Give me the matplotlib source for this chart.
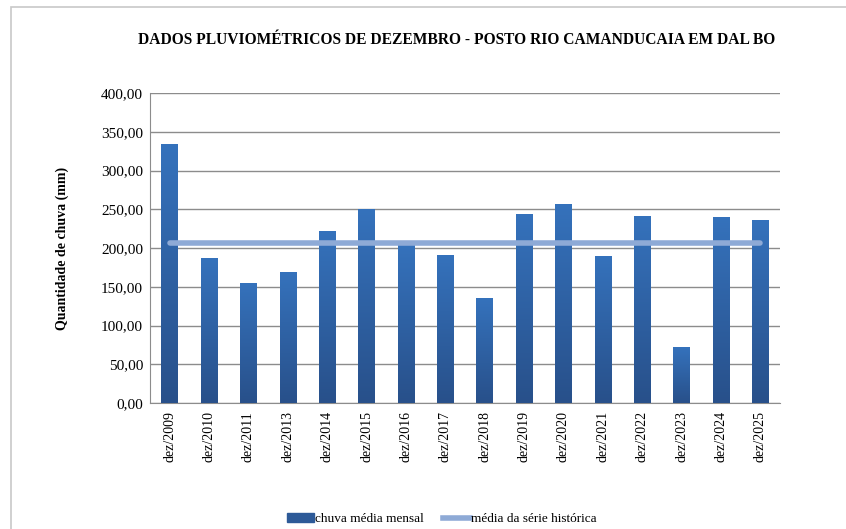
import numpy as np
import matplotlib
matplotlib.use("Agg")
import matplotlib.pyplot as plt
from matplotlib.colors import LinearSegmentedColormap
from matplotlib.patches import Rectangle
from matplotlib.lines import Line2D

plt.rcParams['font.family'] = ['Liberation Serif', 'DejaVu Serif']

meses = ["dez/2009", "dez/2010", "dez/2011", "dez/2013", "dez/2014", "dez/2015",
         "dez/2016", "dez/2017", "dez/2018", "dez/2019", "dez/2020", "dez/2021",
         "dez/2022", "dez/2023", "dez/2024", "dez/2025"]
chuva = [334, 187, 155, 169, 222, 250, 205, 191, 135, 244, 257, 190, 241, 72, 240, 236]
media_hist = [206.5] * len(meses)
yticks = [0, 50, 100, 150, 200, 250, 300, 350, 400]

fig = plt.figure(figsize=(8.46, 5.29), dpi=100)
# moldura do grafico
fig.patches.append(Rectangle((11 / 846, -0.1), 1.0, 1.1 - 7 / 529, transform=fig.transFigure,
                             fill=False, edgecolor="#c8c8c8", linewidth=1.2))
ax = fig.add_axes([150 / 846, 1 - 403 / 529, 630 / 846, 310 / 529])

x = np.arange(len(meses))
bars = ax.bar(x, chuva, width=0.42, color="#2f63a3", zorder=3)

# degrade nas barras
cmap = LinearSegmentedColormap.from_list("azul", ["#28508a", "#3572bc"])
grad = np.linspace(0, 1, 256).reshape(-1, 1)
for b in bars:
    im = ax.imshow(grad, cmap=cmap, origin="lower", aspect="auto", zorder=3.5,
                   extent=[b.get_x(), b.get_x() + b.get_width(), 0, b.get_height()])
    im.set_clip_path(b)

ax.plot(x, media_hist, color="#8eaad6", linewidth=4, solid_capstyle="round", zorder=4)

ax.set_xlim(-0.5, len(meses) - 0.5)
ax.set_ylim(0, 400)
ax.set_yticks(yticks)
ax.set_yticklabels([f"{v:.2f}".replace(".", ",") for v in yticks], fontsize=11)
ax.set_xticks(x)
ax.set_xticklabels(meses, rotation=90, fontsize=10)
ax.tick_params(axis="x", length=0, pad=6)
ax.tick_params(axis="y", length=0, pad=5)
ax.grid(axis="y", color="#8c8c8c", linewidth=1, zorder=0)
for s in ["top", "right"]:
    ax.spines[s].set_visible(False)
for s in ["left", "bottom"]:
    ax.spines[s].set_color("#8c8c8c")

ax.set_ylabel("Quantidade de chuva (mm)", fontsize=10, fontweight="bold", labelpad=23)
fig.text(457 / 846, 1 - 40 / 529, "DADOS PLUVIOMÉTRICOS DE DEZEMBRO - POSTO RIO CAMANDUCAIA EM DAL BO",
         ha="center", va="center", fontsize=11.2, fontweight="bold")

handles = [Rectangle((0, 0), 1, 1, color="#2d5a98"),
           Line2D([0], [0], color="#8eaad6", linewidth=4)]
fig.legend(handles, ["chuva média mensal", "média da série histórica"],
           loc="center", bbox_to_anchor=(442 / 846, 1 - 519 / 529), ncol=2, frameon=False,
           fontsize=9.5, handlelength=2.0, handletextpad=0.1, columnspacing=1.5)

fig.savefig("out.png", dpi=100)
